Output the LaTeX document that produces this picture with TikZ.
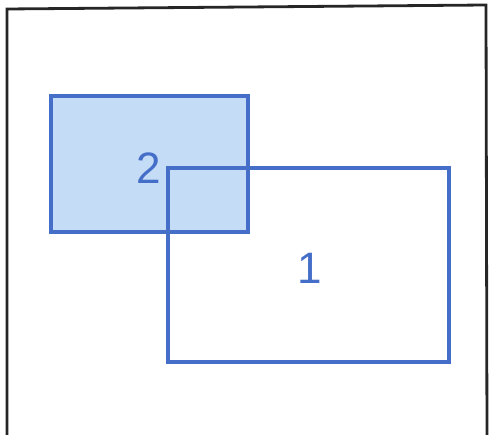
\documentclass[tikz,border=0pt]{standalone}
\usepackage{fontspec}
\setmainfont{Liberation Sans}
\usetikzlibrary{positioning}

\definecolor{rectblue}{RGB}{68,110,200}
\definecolor{fillblue}{RGB}{197,220,246}

\begin{document}
\begin{tikzpicture}[x=1pt,y=-1pt]
		
		\tikzset{
			box/.style={
				draw=rectblue,
				line width=3.4pt,
				inner sep=0pt
			},
			num/.style={
				text=rectblue,
				font=\fontsize{44}{44}\selectfont
			}
		}
		
		\useasboundingbox (0,0) rectangle (496,435);
		
		% outer frame, open at the bottom
		\draw[line width=2.8pt,black!85] (7,440) -- (7,9) -- (486,5) -- (487,440);
		
		\node[box,fill=fillblue,minimum width=197pt,minimum height=136pt] (two) at (149.5,164) {};
		\node[box,minimum width=281pt,minimum height=194pt] (one) at (308.5,265) {};
		
		\node[num] (lbltwo) at (149,168) {2};
		\node[num] (lblone) at (310,268) {1};
		
	\end{tikzpicture}
\end{document}
